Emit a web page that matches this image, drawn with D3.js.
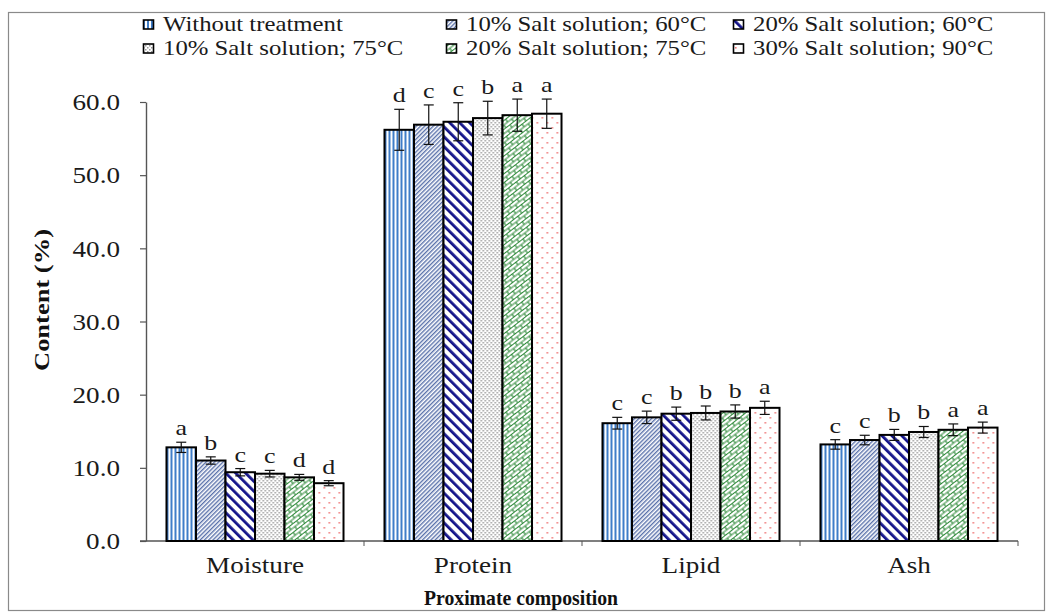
<!DOCTYPE html>
<html>
<head>
<meta charset="utf-8">
<script src="https://cdn.jsdelivr.net/npm/d3@7"></script>
<style>
  body { margin: 0; background: #fff; }
  svg { display: block; }
</style>
</head>
<body>
<script>
// Categories on the x axis
var categories = ['Moisture', 'Protein', 'Lipid', 'Ash'];

// Treatments (legend order)
var treatments = [
  'Without treatment',
  '10% Salt solution; 60°C',
  '20% Salt solution; 60°C',
  '10% Salt solution; 75°C',
  '20% Salt solution; 75°C',
  '30% Salt solution; 90°C'
];

// Mean content (%) per treatment, in category order
var withoutTreatment = [12.8, 56.2, 16.1, 13.2];
var salt10at60 = [11.0, 56.9, 16.9, 13.8];
var salt20at60 = [9.4, 57.3, 17.4, 14.5];
var salt10at75 = [9.2, 57.8, 17.5, 14.9];
var salt20at75 = [8.7, 58.2, 17.7, 15.2];
var salt30at90 = [7.9, 58.4, 18.2, 15.5];

// Standard deviations
var errWithout = [0.7, 2.8, 0.8, 0.65];
var err10at60 = [0.5, 2.7, 0.85, 0.65];
var err20at60 = [0.5, 2.6, 0.9, 0.75];
var err10at75 = [0.45, 2.3, 0.95, 0.75];
var err20at75 = [0.4, 2.2, 0.9, 0.8];
var err30at90 = [0.35, 2.0, 0.9, 0.75];

// Significance letters
var letWithout = ['a', 'd', 'c', 'c'];
var let10at60 = ['b', 'c', 'c', 'c'];
var let20at60 = ['c', 'c', 'b', 'b'];
var let10at75 = ['c', 'b', 'b', 'b'];
var let20at75 = ['d', 'a', 'b', 'a'];
var let30at90 = ['d', 'a', 'a', 'a'];

var yTicks = [0, 10, 20, 30, 40, 50, 60];

var allValues = [withoutTreatment, salt10at60, salt20at60, salt10at75, salt20at75, salt30at90];
var allErrors = [errWithout, err10at60, err20at60, err10at75, err20at75, err30at90];
var allLetters = [letWithout, let10at60, let20at60, let10at75, let20at75, let30at90];
var patternIds = ['pVert', 'pFine', 'pNavy', 'pGrey', 'pBrick', 'pDots'];

// Text in the original looks horizontally stretched
var STRETCH = 1.18;
var SERIF = '"Liberation Serif", "Times New Roman", serif';

var width = 1052, height = 615;
var plotLeft = 146, plotRight = 1018, plotTop = 102, plotBottom = 541;

var svg = d3.select('body').append('svg')
  .attr('width', width)
  .attr('height', height)
  .style('font-family', SERIF);

// Patterns for the bar fills
var defs = svg.append('defs');

function pattern(id, w, h, transform) {
  var p = defs.append('pattern')
    .attr('id', id)
    .attr('patternUnits', 'userSpaceOnUse')
    .attr('width', w)
    .attr('height', h);
  if (transform) p.attr('patternTransform', transform);
  p.append('rect').attr('width', w).attr('height', h).attr('fill', '#fff');
  return p;
}

// vertical blue stripes
pattern('pVert', 4, 4).append('rect')
  .attr('x', 0).attr('width', 2).attr('height', 4).attr('fill', '#3f7dc8');

// fine blue-grey diagonal lines
pattern('pFine', 3, 3, 'rotate(45)').append('rect')
  .attr('width', 1.4).attr('height', 3).attr('fill', '#5a72ab');

// thick navy diagonal stripes
pattern('pNavy', 7, 7, 'rotate(-45)').append('rect')
  .attr('width', 2.8).attr('height', 7).attr('fill', '#14148a');

// grey stipple
var grey = pattern('pGrey', 4, 4);
grey.append('rect').attr('x', 0).attr('y', 0).attr('width', 1.5).attr('height', 1.5).attr('fill', '#9a9a9a');
grey.append('rect').attr('x', 2).attr('y', 2).attr('width', 1.5).attr('height', 1.5).attr('fill', '#9a9a9a');

// green diagonal bricks
var brick = pattern('pBrick', 10, 7, 'rotate(-38)');
brick.append('path')
  .attr('d', 'M0,0.5H10M0,4H10M2,0.5V4M7,4V7')
  .attr('stroke', '#2f8a3a')
  .attr('stroke-width', 1.2)
  .attr('fill', 'none');

// sparse red dots
var dots = pattern('pDots', 10, 10);
dots.append('rect').attr('x', 2).attr('y', 2).attr('width', 1.6).attr('height', 1.6).attr('fill', '#f07a7a');
dots.append('rect').attr('x', 7).attr('y', 7).attr('width', 1.6).attr('height', 1.6).attr('fill', '#f07a7a');

// Outer frame
svg.append('rect')
  .attr('x', 8.5).attr('y', 12.5)
  .attr('width', 1036).attr('height', 598)
  .attr('fill', 'none')
  .attr('stroke', '#8a8a8a')
  .attr('stroke-width', 1.2);

// Scales
var x0 = d3.scaleBand()
  .domain(categories)
  .range([plotLeft, plotRight])
  .paddingInner(0.188)
  .paddingOuter(0.094);

var x1 = d3.scaleBand()
  .domain(d3.range(treatments.length))
  .range([0, x0.bandwidth()]);

var y = d3.scaleLinear()
  .domain([0, 60])
  .range([plotBottom, plotTop]);

// Y axis
var yAxis = svg.append('g')
  .attr('transform', 'translate(' + plotLeft + ',0)')
  .call(d3.axisLeft(y).tickValues(yTicks).tickSize(6).tickSizeOuter(0).tickFormat(d3.format('.1f')));

yAxis.select('.domain').attr('stroke', '#555').attr('stroke-width', 1.4);
yAxis.selectAll('.tick line').attr('stroke', '#555').attr('stroke-width', 1.2);
yAxis.selectAll('.tick text')
  .attr('x', -26 / STRETCH)
  .attr('dy', '0.34em')
  .attr('transform', 'scale(' + STRETCH + ',1)')
  .style('font-family', SERIF)
  .style('font-size', '23px')
  .style('fill', '#1a1a1a');

// X axis line and ticks between categories
svg.append('line')
  .attr('x1', plotLeft - 6).attr('x2', plotRight)
  .attr('y1', plotBottom).attr('y2', plotBottom)
  .attr('stroke', '#555')
  .attr('stroke-width', 1.4);

var gap = x0.step() * x0.paddingInner() / 2;
svg.selectAll('line.xtick')
  .data(categories.slice(1).concat(['end']))
  .enter().append('line')
  .attr('class', 'xtick')
  .attr('x1', function(d, i) { return i < 3 ? x0(d) - gap : plotRight; })
  .attr('x2', function(d, i) { return i < 3 ? x0(d) - gap : plotRight; })
  .attr('y1', plotBottom).attr('y2', plotBottom + 5)
  .attr('stroke', '#555');

// Category labels
svg.selectAll('text.cat')
  .data(categories)
  .enter().append('text')
  .attr('class', 'cat')
  .attr('text-anchor', 'middle')
  .attr('transform', function(d) {
    return 'translate(' + (x0(d) + x0.bandwidth() / 2) + ',573) scale(' + STRETCH + ',1)';
  })
  .style('font-family', SERIF)
  .style('font-size', '23px')
  .style('fill', '#1a1a1a')
  .text(function(d) { return d; });

// Bars: one group per category, one bar per treatment
var groups = svg.selectAll('g.cat')
  .data(categories)
  .enter().append('g')
  .attr('class', 'cat')
  .attr('transform', function(d) { return 'translate(' + x0(d) + ',0)'; });

groups.each(function(cat, ci) {
  var g = d3.select(this);
  var rows = treatments.map(function(t, ti) {
    return { t: ti, v: allValues[ti][ci], e: allErrors[ti][ci], l: allLetters[ti][ci] };
  });

  g.selectAll('rect.bar')
    .data(rows)
    .enter().append('rect')
    .attr('class', 'bar')
    .attr('x', function(d) { return x1(d.t); })
    .attr('y', function(d) { return y(d.v); })
    .attr('width', x1.bandwidth())
    .attr('height', function(d) { return y(0) - y(d.v); })
    .attr('fill', function(d) { return 'url(#' + patternIds[d.t] + ')'; })
    .attr('stroke', '#000')
    .attr('stroke-width', 2);

  // error bars
  var eb = g.selectAll('g.err')
    .data(rows)
    .enter().append('g')
    .attr('class', 'err')
    .attr('stroke', '#111')
    .attr('stroke-width', 1.2);

  eb.append('line')
    .attr('x1', function(d) { return x1(d.t) + x1.bandwidth() / 2; })
    .attr('x2', function(d) { return x1(d.t) + x1.bandwidth() / 2; })
    .attr('y1', function(d) { return y(d.v + d.e); })
    .attr('y2', function(d) { return y(d.v - d.e); });

  [1, -1].forEach(function(s) {
    eb.append('line')
      .attr('x1', function(d) { return x1(d.t) + x1.bandwidth() / 2 - 5; })
      .attr('x2', function(d) { return x1(d.t) + x1.bandwidth() / 2 + 5; })
      .attr('y1', function(d) { return y(d.v + s * d.e); })
      .attr('y2', function(d) { return y(d.v + s * d.e); });
  });

  // letters above error bars
  g.selectAll('text.sig')
    .data(rows)
    .enter().append('text')
    .attr('class', 'sig')
    .attr('text-anchor', 'middle')
    .attr('transform', function(d) {
      return 'translate(' + (x1(d.t) + x1.bandwidth() / 2) + ',' + (y(d.v + d.e) - 7) + ') scale(' + STRETCH + ',1)';
    })
    .style('font-family', SERIF)
    .style('font-size', '22px')
    .style('fill', '#1a1a1a')
    .text(function(d) { return d.l; });
});

// Axis titles
svg.append('text')
  .attr('x', 521).attr('y', 605)
  .attr('text-anchor', 'middle')
  .attr('textLength', 194)
  .attr('lengthAdjust', 'spacingAndGlyphs')
  .style('font-family', SERIF)
  .style('font-size', '21px')
  .style('font-weight', 'bold')
  .style('fill', '#111')
  .text('Proximate composition');

svg.append('text')
  .attr('transform', 'translate(49,300) rotate(-90)')
  .attr('text-anchor', 'middle')
  .attr('textLength', 142)
  .attr('lengthAdjust', 'spacingAndGlyphs')
  .style('font-family', SERIF)
  .style('font-size', '21px')
  .style('font-weight', 'bold')
  .style('fill', '#111')
  .text('Content (%)');

// Legend: 3 columns, 2 rows
var legendCols = [143, 446, 733];
var legendRows = [31, 55];

var legend = svg.selectAll('g.legend')
  .data(treatments)
  .enter().append('g')
  .attr('class', 'legend')
  .attr('transform', function(d, i) {
    return 'translate(' + legendCols[i % 3] + ',' + legendRows[Math.floor(i / 3)] + ')';
  });

legend.append('rect')
  .attr('x', 0.5).attr('y', -11)
  .attr('width', 10).attr('height', 9)
  .attr('fill', function(d, i) { return 'url(#' + patternIds[i] + ')'; })
  .attr('stroke', '#000')
  .attr('stroke-width', 1.6);

legend.append('text')
  .attr('transform', 'translate(20,0) scale(' + STRETCH + ',1)')
  .style('font-family', SERIF)
  .style('font-size', '21px')
  .style('fill', '#1a1a1a')
  .text(function(d) { return d; });
</script>
</body>
</html>
